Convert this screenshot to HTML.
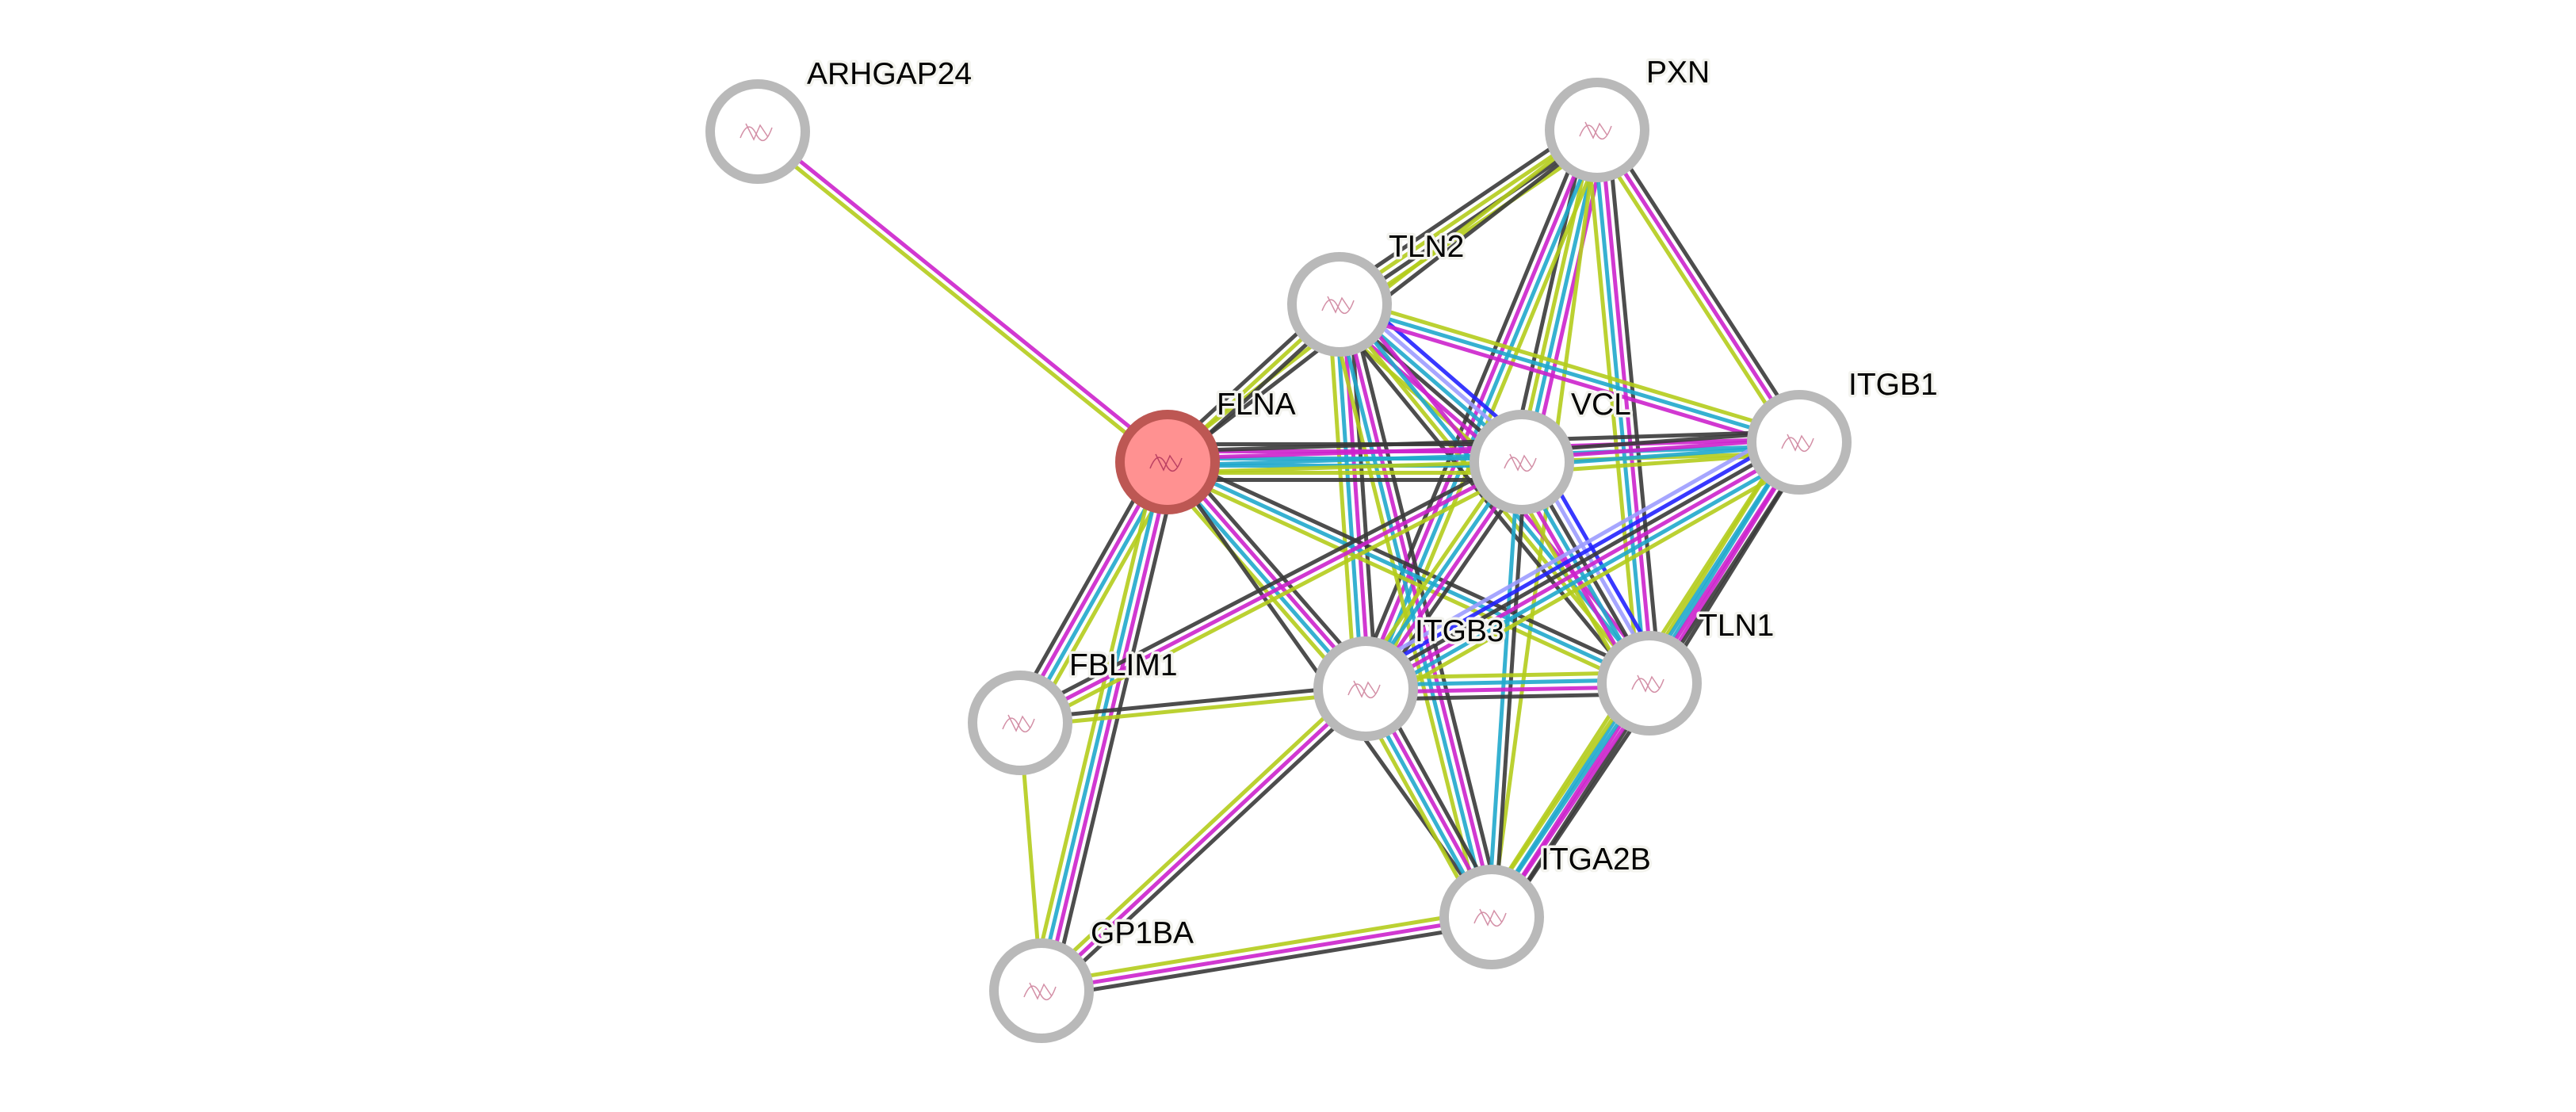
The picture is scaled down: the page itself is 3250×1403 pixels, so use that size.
<!DOCTYPE html>
<html><head><meta charset="utf-8"><style>
html,body{margin:0;padding:0;background:#fff;}
svg{display:block;}
text{font-family:"Liberation Sans",sans-serif;font-size:39px;fill:#000;paint-order:stroke;stroke:#f3f3ee;stroke-width:7px;stroke-linejoin:round;}
</style></head><body>
<svg id="s" width="3250" height="1403" viewBox="0 0 3250 1403" xmlns="http://www.w3.org/2000/svg">
<g id="edges"></g><g id="nodes"></g><g id="labels"></g>
</svg>
<script>
var N={
ARHGAP24:[956,166],PXN:[2015,164],TLN2:[1690,384],FLNA:[1473,583],VCL:[1920,583],
ITGB1:[2270,558],ITGB3:[1723,869],TLN1:[2081,862],FBLIM1:[1287,912],ITGA2B:[1882,1157],GP1BA:[1314,1250]};
var C={y:"#b4cc1c",m:"#cc22cc",c:"#20a8cc",k:"#3a3a3a",b:"#2222ff",l:"#9c9cff"};
var E=[
["ARHGAP24","FLNA","my"],["PXN","TLN2","ykyk"],["PXN","FLNA","ky"],["PXN","VCL","mcyk"],
["PXN","ITGB1","kmy"],["PXN","TLN1","kmcy"],["PXN","ITGB3","ycmk"],["PXN","ITGA2B","y"],
["TLN2","FLNA","kyk"],["TLN2","VCL","blckmy"],["TLN2","ITGB1","ycm"],["TLN2","ITGB3","kmcy"],
["TLN2","TLN1","mcyk"],["TLN2","ITGA2B","kmcy"],["FLNA","VCL","kmccyk"],["FLNA","ITGB1","kmcy"],
["FLNA","ITGB3","kmcy"],["FLNA","TLN1","kcy"],["FLNA","FBLIM1","ycmk"],["FLNA","GP1BA","kmcy"],
["FLNA","ITGA2B","k"],["VCL","ITGB1","kmcy"],["VCL","ITGB3","kmcy"],["VCL","TLN1","blkcmy"],
["VCL","ITGA2B","kc"],["VCL","FBLIM1","ymk"],["ITGB1","ITGB3","ycmkbl"],["ITGB1","TLN1","kmcy"],
["ITGB1","ITGA2B","kmcy"],["ITGB3","TLN1","ycmk"],["ITGB3","ITGA2B","kmcy"],["ITGB3","FBLIM1","yk"],
["ITGB3","GP1BA","kmy"],["TLN1","ITGA2B","kmcy"],["ITGA2B","GP1BA","kmy"],["FBLIM1","GP1BA","y"]];
var eg=document.getElementById("edges"),h="";
E.forEach(function(e){var a=N[e[0]],b=N[e[1]],dx=b[0]-a[0],dy=b[1]-a[1],L=Math.hypot(dx,dy),px=-dy/L,py=dx/L,n=e[2].length,sp=9;
for(var i=0;i<n;i++){var o=(i-(n-1)/2)*sp;
h+='<line x1="'+(a[0]+px*o)+'" y1="'+(a[1]+py*o)+'" x2="'+(b[0]+px*o)+'" y2="'+(b[1]+py*o)+'" stroke="'+C[e[2][i]]+'" stroke-width="5" stroke-opacity="0.9"/>';}});
eg.innerHTML=h;
var nh="",lh="";
for(var k in N){var p=N[k],f=k=="FLNA";
nh+='<circle cx="'+p[0]+'" cy="'+p[1]+'" r="60" fill="'+(f?"#ff9191":"#fff")+'" stroke="'+(f?"#bd5753":"#b9b9b9")+'" stroke-width="12"/>';
nh+='<g stroke="'+(f?"#a02050":"#c06080")+'" stroke-width="1.5" fill="none" opacity="0.7"><path d="M'+(p[0]-22)+' '+(p[1]+8)+' q10 -25 20 -5 t20 -8 M'+(p[0]-15)+' '+(p[1]-10)+' l10 20 l8 -18 l10 15"/></g>';
lh+='<text x="'+(p[0]+62)+'" y="'+(p[1]-60)+'">'+k+'</text>';}
document.getElementById("nodes").innerHTML=nh;
document.getElementById("labels").innerHTML=lh;
</script>
</body></html>
